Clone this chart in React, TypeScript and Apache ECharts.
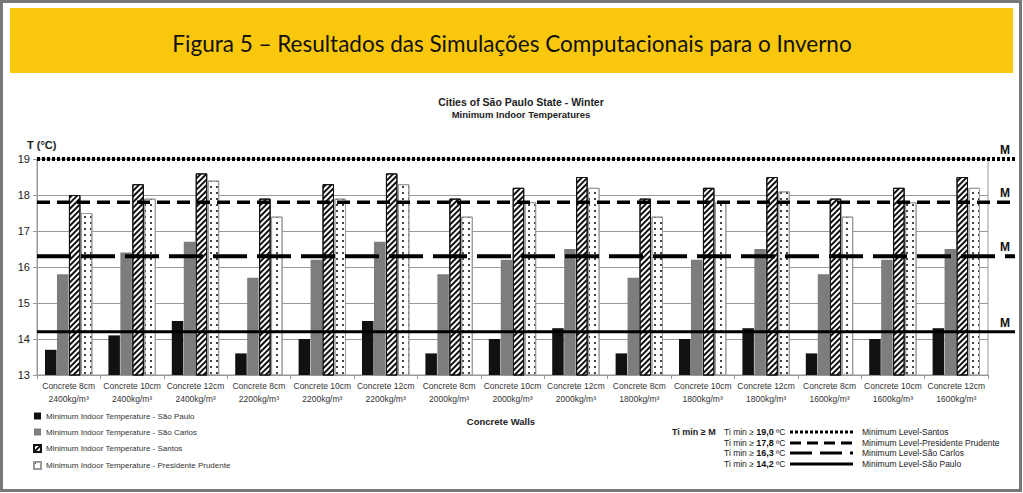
import React, { useEffect, useRef } from "react";
import * as echarts from "echarts";

const thicknesses = ["8cm", "10cm", "12cm"];
const densities = ["2400kg/m³", "2200kg/m³", "2000kg/m³", "1800kg/m³", "1600kg/m³"];
const categories: string[] = [];
densities.forEach((d) => thicknesses.forEach((t) => categories.push(`Concrete ${t}\n${d}`)));

const saoPaulo = [13.7, 14.1, 14.5, 13.6, 14.0, 14.5, 13.6, 14.0, 14.3, 13.6, 14.0, 14.3, 13.6, 14.0, 14.3];
const saoCarlos = [15.8, 16.4, 16.7, 15.7, 16.2, 16.7, 15.8, 16.2, 16.5, 15.7, 16.2, 16.5, 15.8, 16.2, 16.5];
const santos = [18.0, 18.3, 18.6, 17.9, 18.3, 18.6, 17.9, 18.2, 18.5, 17.9, 18.2, 18.5, 17.9, 18.2, 18.5];
const presPrudente = [17.5, 17.9, 18.4, 17.4, 17.9, 18.3, 17.4, 17.8, 18.2, 17.4, 17.8, 18.1, 17.4, 17.8, 18.2];

const seriesNames = [
  "Minimum Indoor Temperature - São Paulo",
  "Minimum Indoor Temperature - São Carlos",
  "Minimum Indoor Temperature - Santos",
  "Minimum Indoor Temperature - Presidente Prudente",
];

const refLevels = [19.0, 17.8, 16.3, 14.2];
const refLevelText = ["19,0", "17,8", "16,3", "14,2"];
const refNames = [
  "Minimum Level-Santos",
  "Minimum Level-Presidente Prudente",
  "Minimum Level-São Carlos",
  "Minimum Level-São Paulo",
];

const FONT = "Liberation Sans, Arial, sans-serif";

export default function App() {
  const ref = useRef<HTMLDivElement>(null);
  useEffect(() => {
    if (!ref.current) return;
    const chart = echarts.init(ref.current, null, { renderer: "svg" });

    const refStyles = [
      { width: 4, type: [3, 2] as any },
      { width: 3.5, type: [13, 7] as any },
      { width: 4, type: [34, 10] as any },
      { width: 3, type: "solid" as any },
    ];
    const legendDash = [[3, 2], [11, 6], [22, 8, 22, 8, 3, 20], null];
    const legendRowY = [432, 443, 453, 464];

    const barBase = { type: "bar", xAxisIndex: 0, yAxisIndex: 0, barWidth: 11.5, barGap: "4%" };

    const option: any = {
      animation: false,
      backgroundColor: "#ffffff",
      textStyle: { fontFamily: FONT },
      title: {
        text: "Cities of São Paulo State - Winter",
        subtext: "Minimum Indoor Temperatures",
        left: 516,
        textAlign: "center",
        top: 91,
        itemGap: 2,
        textStyle: { fontFamily: FONT, fontSize: 10.5, fontWeight: "bold", color: "#222" },
        subtextStyle: { fontFamily: FONT, fontSize: 9.5, fontWeight: "bold", color: "#222" },
      },
      legend: {
        data: seriesNames.map((n) => ({ name: n, icon: "rect" })),
        orient: "vertical",
        left: 28,
        top: 407,
        itemWidth: 7,
        itemHeight: 7,
        itemGap: 8,
        textStyle: { fontFamily: FONT, fontSize: 8, color: "#333" },
      },
      grid: [
        { left: 37, right: 35, top: 159, bottom: 118, show: true, borderColor: "#999", borderWidth: 1 },
        { left: 37, right: 8, top: 159, bottom: 118 },
      ],
      xAxis: [
        {
          type: "category",
          gridIndex: 0,
          data: categories,
          axisLine: { lineStyle: { color: "#999" } },
          axisTick: { show: true, length: 4, lineStyle: { color: "#999" } },
          axisLabel: { fontFamily: FONT, fontSize: 8.5, color: "#333", lineHeight: 13, margin: 4, interval: 0 },
        },
        { type: "value", gridIndex: 1, min: 0, max: 1, show: false },
      ],
      yAxis: [
        {
          type: "value",
          gridIndex: 0,
          min: 13,
          max: 19,
          interval: 1,
          axisLine: { show: true, lineStyle: { color: "#999" } },
          axisTick: { show: true, length: 4, lineStyle: { color: "#999" } },
          axisLabel: { fontFamily: FONT, fontSize: 11, color: "#222", margin: 7 },
          splitLine: { lineStyle: { color: "#999", width: 1 } },
        },
        { type: "value", gridIndex: 1, min: 13, max: 19, show: false },
      ],
      series: [
        { ...barBase, name: seriesNames[0], data: saoPaulo, itemStyle: { color: "#111111" } },
        { ...barBase, name: seriesNames[1], data: saoCarlos, itemStyle: { color: "#7d7d7d" } },
        {
          ...barBase,
          name: seriesNames[2],
          data: santos,
          itemStyle: {
            color: "#ffffff",
            borderColor: "#111",
            borderWidth: 1,
            decal: {
              symbol: "rect",
              symbolSize: 1,
              color: "#111",
              dashArrayX: [1, 0],
              dashArrayY: [2, 1.5],
              rotation: -Math.PI / 4,
            },
          },
        },
        {
          ...barBase,
          name: seriesNames[3],
          data: presPrudente,
          itemStyle: {
            color: "#ffffff",
            borderColor: "#999",
            borderWidth: 1,
            decal: {
              symbol: "rect",
              symbolSize: 1,
              color: "#444",
              dashArrayX: [[1.5, 3.5]],
              dashArrayY: [1.5, 3.5],
              rotation: 0,
            },
          },
        },
        ...refLevels.map((lvl, i) => ({
          type: "line",
          name: refNames[i],
          xAxisIndex: 1,
          yAxisIndex: 1,
          data: [
            [0, lvl],
            [1, lvl],
          ],
          symbol: "none",
          silent: true,
          lineStyle: { color: "#000", width: refStyles[i].width, type: refStyles[i].type, cap: "butt" },
          endLabel: {
            show: true,
            formatter: "M",
            offset: [-23, -9],
            fontFamily: FONT,
            fontSize: 12,
            fontWeight: "bold",
            color: "#111",
          },
          z: 5,
        })),
      ],
      graphic: [
        {
          type: "rect",
          shape: { x: 1.5, y: 1.5, width: 1019, height: 489 },
          style: { fill: "none", stroke: "#777", lineWidth: 3 },
          silent: true,
        },
        {
          type: "rect",
          shape: { x: 10, y: 8, width: 1003, height: 65 },
          style: { fill: "#F9C70C" },
          silent: true,
        },
        {
          type: "text",
          x: 512,
          y: 43,
          style: {
            text: "Figura 5 – Resultados das Simulações Computacionais para o Inverno",
            font: "22.5px Lato, sans-serif",
            fill: "#111",
            textAlign: "center",
            textVerticalAlign: "middle",
          },
        },
        {
          type: "text",
          x: 27,
          y: 145,
          style: {
            text: "T (°C)",
            font: `bold 11px ${FONT}`,
            fill: "#222",
            textVerticalAlign: "middle",
          },
        },
        {
          type: "text",
          x: 501,
          y: 421,
          style: {
            text: "Concrete Walls",
            font: `bold 9.5px ${FONT}`,
            fill: "#222",
            textAlign: "center",
            textVerticalAlign: "middle",
          },
        },
        {
          type: "text",
          x: 672,
          y: 432,
          style: {
            text: "Ti min ≥ M",
            font: `bold 9px ${FONT}`,
            fill: "#222",
            textVerticalAlign: "middle",
          },
        },
        ...refLevels.flatMap((lvl, i) => [
          {
            type: "text",
            x: 724,
            y: legendRowY[i],
            style: {
              text: `{n|Ti min ≥ }{b|${refLevelText[i]}}{n| ºC}`,
              textVerticalAlign: "middle",
              rich: {
                n: { fontFamily: FONT, fontSize: 8.5, fill: "#222" },
                b: { fontFamily: FONT, fontSize: 9, fontWeight: "bold", fill: "#111" },
              },
            },
          },
          {
            type: "line",
            shape: { x1: 790, y1: legendRowY[i], x2: 853, y2: legendRowY[i] },
            style: {
              stroke: "#000",
              lineWidth: 3,
              lineDash: legendDash[i] || null,
            },
          },
          {
            type: "text",
            x: 862,
            y: legendRowY[i],
            style: {
              text: refNames[i],
              font: `8.5px ${FONT}`,
              fill: "#222",
              textVerticalAlign: "middle",
            },
          },
        ]),
      ],
    };

    chart.setOption(option);
    return () => chart.dispose();
  }, []);

  return (
    <div
      ref={ref}
      style={{ position: "fixed", left: 0, top: 0, width: 1023, height: 493, background: "#fff" }}
    />
  );
}
